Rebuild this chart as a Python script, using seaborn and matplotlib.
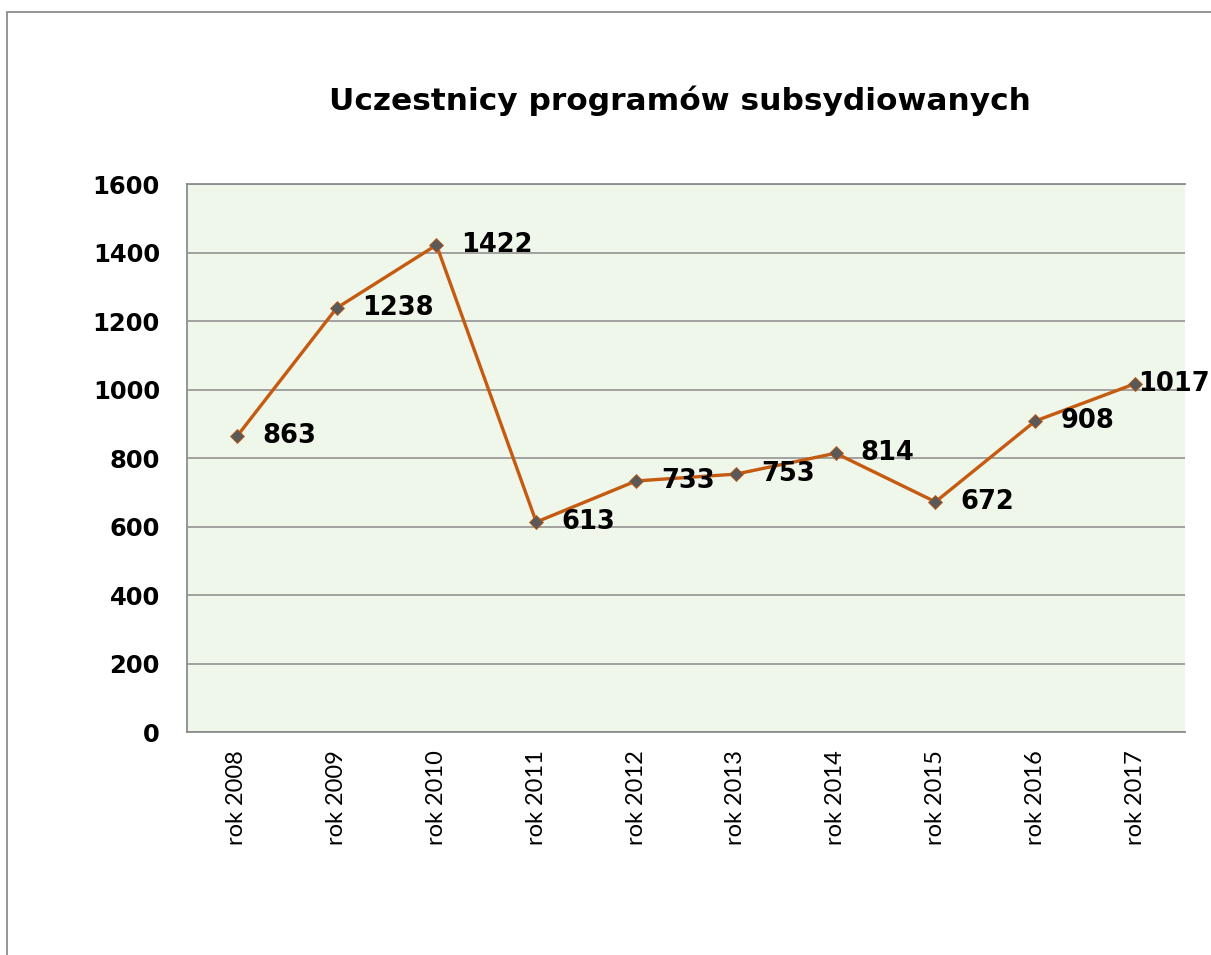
import matplotlib
matplotlib.use("Agg")
import matplotlib.pyplot as plt
import seaborn as sns
import pandas as pd
from matplotlib.patches import Rectangle

# dane
years = ['rok 2008', 'rok 2009', 'rok 2010', 'rok 2011', 'rok 2012',
         'rok 2013', 'rok 2014', 'rok 2015', 'rok 2016', 'rok 2017']
participants = [863, 1238, 1422, 613, 733, 753, 814, 672, 908, 1017]
y_ticks = [0, 200, 400, 600, 800, 1000, 1200, 1400, 1600]
title = 'Uczestnicy programów subsydiowanych'

df = pd.DataFrame({'Rok': years, 'Uczestnicy': participants})

sns.set_theme(style="white")
plt.rcParams['font.family'] = ['DejaVu Sans']

LINE_COLOR = '#C55A11'
MARKER_COLOR = '#595959'
BG_COLOR = '#EFF6EA'
GRID_COLOR = '#8C8C8C'

fig = plt.figure(figsize=(12.11, 9.55), dpi=100)
ax = fig.add_axes([0.1544, 0.2335, 0.8241, 0.5738])
ax.set_facecolor(BG_COLOR)

sns.lineplot(data=df, x='Rok', y='Uczestnicy', ax=ax, sort=False,
             color=LINE_COLOR, linewidth=2.4, marker='D', markersize=7,
             markerfacecolor=MARKER_COLOR, markeredgecolor=LINE_COLOR,
             markeredgewidth=0.6, zorder=3)

ax.set_xlim(-0.5, len(years) - 0.5)
ax.set_ylim(0, 1600)
ax.set_yticks(y_ticks)
ax.yaxis.grid(True, color=GRID_COLOR, linewidth=1.1)
ax.set_axisbelow(True)
ax.set_xlabel('')
ax.set_ylabel('')

for side in ['left', 'bottom', 'top']:
    ax.spines[side].set_color(GRID_COLOR)
    ax.spines[side].set_linewidth(1.3)
ax.spines['right'].set_visible(False)

ax.tick_params(axis='y', length=0, pad=19.5, labelsize=17.5)
for lbl in ax.get_yticklabels():
    lbl.set_fontweight('bold')
    lbl.set_color('black')
ax.tick_params(axis='x', length=0, pad=13, labelsize=17, rotation=90)
for lbl in ax.get_xticklabels():
    lbl.set_fontfamily(['Lato', 'DejaVu Sans'])
    lbl.set_color('black')

# etykiety danych (ostatnia przesunięta bliżej, żeby zmieściła się w ramce)
for i, v in enumerate(participants):
    off = 18 if i < len(participants) - 1 else 2
    ax.annotate(str(v), xy=(i, v), xytext=(off, 0), textcoords='offset points',
                ha='left', va='center', fontsize=18.5, fontweight='bold',
                color='black', zorder=4, annotation_clip=False)

fig.text(0.5615, 0.895, title, ha='center', va='center',
         fontsize=22.5, fontweight='bold', color='black')

# ramka wykresu
fig.patches.append(Rectangle((0.0058, -0.05), 1.2, 0.9874 + 0.05,
                             transform=fig.transFigure, fill=False,
                             edgecolor=GRID_COLOR, linewidth=1.3))

plt.savefig('out.png', dpi=100)
